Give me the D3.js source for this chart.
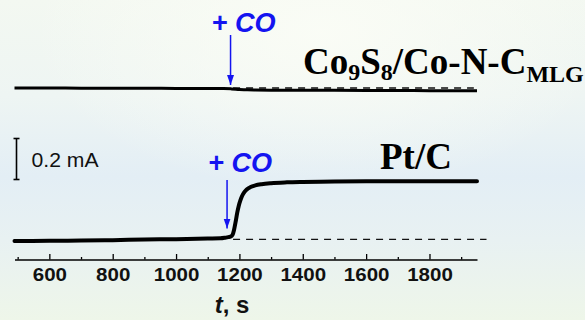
<!DOCTYPE html>
<html>
<head>
<meta charset="utf-8">
<script src="https://cdn.jsdelivr.net/npm/d3@7"></script>
<style>
  html, body { margin: 0; padding: 0; }
  body { width: 585px; height: 320px; overflow: hidden; }
  svg { display: block; }
</style>
</head>
<body>
<script>
// Chronoamperometric response to CO injection (current vs time)
const coTime = [490, 600, 700, 800, 900, 1000, 1100, 1150, 1175, 1200, 1225, 1250, 1300, 1400, 1500, 1600, 1700, 1800, 1950];
const coCurrent = [0.0015, 0.001, 0.0005, 0, 0, -0.0005, -0.001, -0.0015, -0.003, -0.0054, -0.0073, -0.0083, -0.0093, -0.0098, -0.0102, -0.0107, -0.0112, -0.0117, -0.0122];

const ptTime = [490, 600, 700, 800, 900, 1000, 1100, 1140, 1155, 1165, 1172, 1178, 1183, 1188, 1193, 1198, 1203, 1208, 1215, 1223, 1235, 1250, 1270, 1300, 1350, 1400, 1500, 1600, 1800, 1950];
const ptCurrent = [0, 0.001, 0.002, 0.004, 0.007, 0.009, 0.012, 0.013, 0.016, 0.019, 0.021, 0.029, 0.054, 0.093, 0.137, 0.172, 0.198, 0.218, 0.237, 0.251, 0.263, 0.271, 0.277, 0.282, 0.286, 0.288, 0.290, 0.291, 0.291, 0.291];

// vertical offset of the upper trace (mA) and baseline extrapolations
const coOffset = 0.745;
const coBaseline = 0.0015;
const ptBaseline = 0.008;
const baselineTime = [1180, 1940];
const ptBaselineTime = [1180, 1980];

// CO injection marks (s)
const coInjectTop = 1172;
const coInjectPt = 1161;

const majorTicks = [600, 800, 1000, 1200, 1400, 1600, 1800];
const minorTicks = [500, 700, 900, 1100, 1300, 1500, 1700, 1900];
const scaleBar = 0.2; // mA

const W = 585, H = 320;
const svg = d3.select("body").append("svg").attr("width", W).attr("height", H);

// background wash
const defs = svg.append("defs");
const bg = defs.append("linearGradient").attr("id", "bg").attr("x1", 0).attr("y1", 0).attr("x2", 0).attr("y2", 1);
[["0%", "#f3f8f1"], ["30%", "#eef5f3"], ["55%", "#e3eef5"], ["75%", "#e8f1f2"], ["100%", "#eef6e9"]]
  .forEach(([o, c]) => bg.append("stop").attr("offset", o).attr("stop-color", c));
const glow = defs.append("radialGradient").attr("id", "glow").attr("cx", 0.55).attr("cy", 0.1).attr("r", 0.5);
glow.append("stop").attr("offset", "0%").attr("stop-color", "#fbfdf6").attr("stop-opacity", 0.9);
glow.append("stop").attr("offset", "100%").attr("stop-color", "#fbfdf6").attr("stop-opacity", 0);
svg.append("rect").attr("width", W).attr("height", H).attr("fill", "url(#bg)");
svg.append("rect").attr("width", W).attr("height", H).attr("fill", "url(#glow)");

const x = d3.scaleLinear().domain([490, 1950]).range([14.5, 477]);
const y = d3.scaleLinear().domain([0, 1]).range([241, 36]);
const axisY = 259.5;

const line = d3.line().x(d => x(d[0])).y(d => y(d[1])).curve(d3.curveMonotoneX);

// dashed baselines
svg.append("path")
  .attr("d", line(baselineTime.map(t => [t, coOffset + coBaseline])))
  .attr("fill", "none").attr("stroke", "#111").attr("stroke-width", 1.4).attr("stroke-dasharray", "7,6");
svg.append("path")
  .attr("d", line(ptBaselineTime.map(t => [t, ptBaseline])))
  .attr("fill", "none").attr("stroke", "#111").attr("stroke-width", 1.4).attr("stroke-dasharray", "7,6");

// traces
svg.append("path")
  .attr("d", line(coTime.map((t, i) => [t, coOffset + coCurrent[i]])))
  .attr("fill", "none").attr("stroke", "#000").attr("stroke-width", 3).attr("stroke-linejoin", "round");
svg.append("path")
  .attr("d", line(ptTime.map((t, i) => [t, ptCurrent[i]])))
  .attr("fill", "none").attr("stroke", "#000").attr("stroke-width", 4).attr("stroke-linejoin", "round").attr("stroke-linecap", "round");

// time axis: minor ticks every 100 s, labelled major ticks every 200 s
const minorAxis = d3.axisBottom(x).tickValues(minorTicks).tickSizeInner(-2.5).tickSizeOuter(0).tickFormat("");
const majorAxis = d3.axisBottom(x).tickValues(majorTicks).tickSizeInner(-5.5).tickSizeOuter(0).tickPadding(8.5).tickFormat(d3.format("d"));
const gMinor = svg.append("g").attr("transform", `translate(0,${axisY})`).call(minorAxis);
gMinor.select(".domain").remove();
gMinor.selectAll("line").attr("stroke", "#000").attr("stroke-width", 1.3);
const gMajor = svg.append("g").attr("transform", `translate(0,${axisY})`).call(majorAxis);
gMajor.select(".domain").attr("stroke", "#000").attr("stroke-width", 1.5);
gMajor.selectAll("line").attr("stroke", "#000").attr("stroke-width", 1.3);
gMajor.selectAll("text")
  .attr("font-family", "Liberation Sans, Arial, sans-serif")
  .attr("font-weight", "bold").attr("font-size", 19).attr("fill", "#111")
  .attr("transform", "scale(1.08,1)");

// axis title
const xt = svg.append("text").attr("x", 232).attr("y", 313).attr("text-anchor", "middle")
  .attr("font-family", "Liberation Sans, Arial, sans-serif").attr("font-weight", "bold").attr("font-size", 24).attr("fill", "#111");
xt.append("tspan").attr("font-style", "italic").text("t");
xt.append("tspan").text(", s");

// scale bar
const sbX = 16.5;
const sb = svg.append("g").attr("stroke", "#000").attr("stroke-width", 1.6);
const y0 = y(0.5), y1 = y(0.5 - scaleBar);
sb.append("line").attr("x1", sbX).attr("x2", sbX).attr("y1", y0).attr("y2", y1);
sb.append("line").attr("x1", sbX - 3).attr("x2", sbX + 3).attr("y1", y0).attr("y2", y0);
sb.append("line").attr("x1", sbX - 3).attr("x2", sbX + 3).attr("y1", y1).attr("y2", y1);
svg.append("text").attr("x", 31.5).attr("y", 166.5)
  .attr("font-family", "Liberation Sans, Arial, sans-serif").attr("font-size", 20).attr("fill", "#111")
  .attr("textLength", 67).attr("lengthAdjust", "spacingAndGlyphs")
  .text(scaleBar + " mA");

// CO injection arrows
const blue = "#1414f0";
const marker = defs.append("marker").attr("id", "arr").attr("viewBox", "0 0 10 10")
  .attr("refX", 10).attr("refY", 5).attr("markerWidth", 10).attr("markerHeight", 10)
  .attr("markerUnits", "userSpaceOnUse").attr("orient", "auto");
marker.append("path").attr("d", "M0,1.5 L10,5 L0,8.5 Z").attr("fill", blue);

function injection(t, yTop, yTip, labelY) {
  svg.append("line").attr("x1", x(t)).attr("x2", x(t)).attr("y1", yTop).attr("y2", yTip)
    .attr("stroke", blue).attr("stroke-width", 1.5).attr("marker-end", "url(#arr)");
  svg.append("text").attr("x", x(t) - 19).attr("y", labelY)
    .attr("font-family", "Liberation Sans, Arial, sans-serif").attr("font-weight", "bold").attr("font-style", "italic")
    .attr("font-size", 27).attr("fill", blue)
    .attr("textLength", 64).attr("lengthAdjust", "spacingAndGlyphs")
    .text("+ CO");
}
injection(coInjectTop, 35, 85, 31.5);
injection(coInjectPt, 180, 228.5, 172);

// sample labels
const serif = "Liberation Serif, Times New Roman, serif";
const lab1 = svg.append("text").attr("x", 303).attr("y", 74)
  .attr("font-family", serif).attr("font-weight", "bold").attr("font-size", 37).attr("fill", "#000");
lab1.append("tspan").text("Co");
lab1.append("tspan").attr("font-size", 24).attr("dy", 6).text("9");
lab1.append("tspan").attr("dy", -6).text("S");
lab1.append("tspan").attr("font-size", 24).attr("dy", 6).text("8");
lab1.append("tspan").attr("dy", -6).text("/Co-N-C");
lab1.append("tspan").attr("font-size", 24).attr("dy", 7.5).text("MLG");

svg.append("text").attr("x", 380).attr("y", 169)
  .attr("font-family", serif).attr("font-weight", "bold").attr("font-size", 37).attr("fill", "#000")
  .text("Pt/C");
</script>
</body>
</html>
